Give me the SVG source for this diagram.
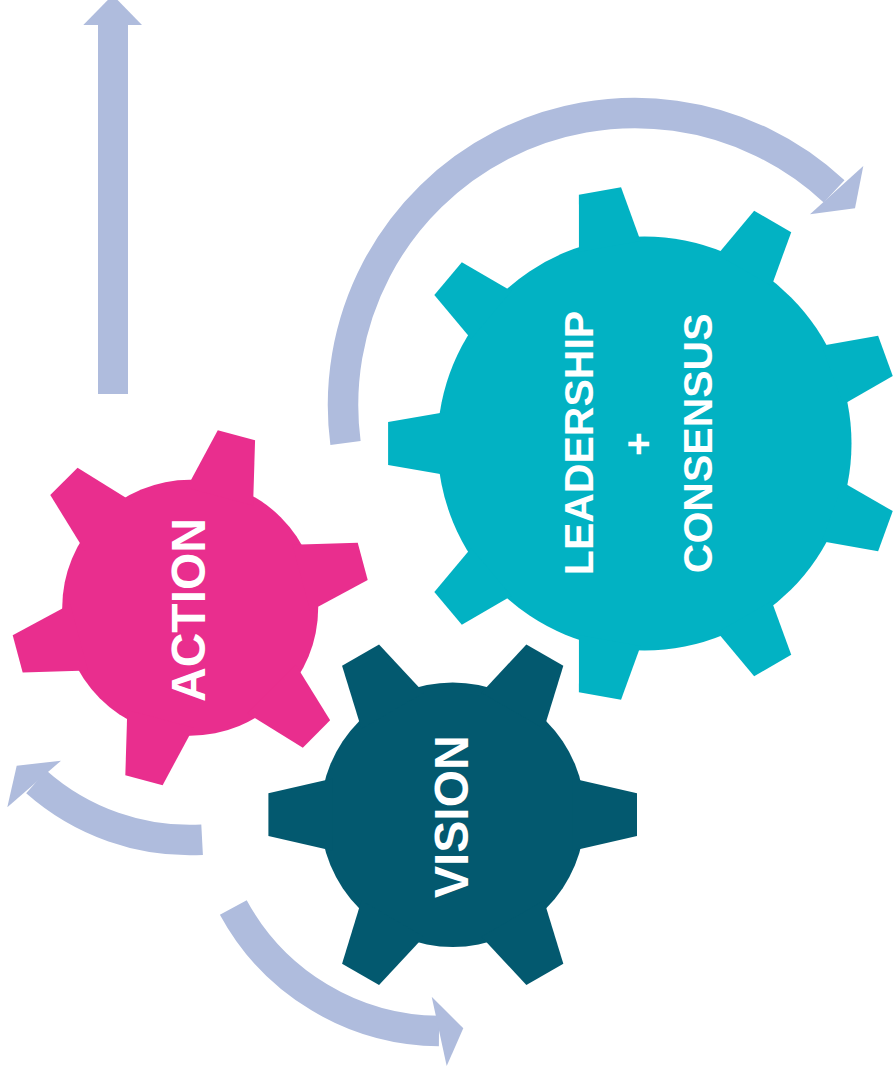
<svg xmlns="http://www.w3.org/2000/svg" xmlns:xlink="http://www.w3.org/1999/xlink" width="894" height="1076" viewBox="0 0 894 1076">
  <style>
    .arc { fill: none; stroke: #AFBCDD; stroke-width: 30.5; stroke-linecap: butt; }
    .head { fill: #AFBCDD; }
    .label { font-family: "Liberation Sans", Arial, sans-serif; font-weight: bold; fill: #FFFFFF; text-anchor: middle; }
    .teal { fill: #02B2C3; }
    .pink { fill: #E92E8E; }
    .navy { fill: #03596F; }
  </style>
  <defs>
    <polygon id="toothTeal" points="200,-31.3 256.4,-21.4 256.4,21.4 200,31.3"/>
    <polygon id="toothPink" points="115,-34.3 178.6,-19.3 178.6,19.3 115,34.3"/>
    <polygon id="toothNavy" points="120,-36.1 184.3,-21.35 184.3,21.35 120,36.1"/>
  </defs>

  <g id="connectors">
    <g id="arrow-up">
      <rect class="head" x="98" y="24" width="30" height="370"/>
      <polygon class="head" points="83.3,25 112.7,-5 142,25"/>
    </g>
    <g id="arrow-big-arc">
      <path class="arc" d="M 345.5,443 A 292,292 0 0 1 834.1,191.4"/>
      <polygon class="head" points="863.3,166 855,208.3 810,214.3"/>
    </g>
    <g id="arrow-left-arc">
      <path class="arc" d="M 202.1,839.7 A 232,232 0 0 1 36.3,781.8"/>
      <polygon class="head" points="61,760.7 16.7,765.7 7.3,807.3"/>
    </g>
    <g id="arrow-bottom-arc">
      <path class="arc" d="M 233.3,907.4 A 236,236 0 0 0 439,1031"/>
      <polygon class="head" points="431.7,996.7 463.3,1028.3 446.7,1066"/>
    </g>
  </g>

  <g id="gear-leadership" class="teal">
    <g transform="translate(644.5,443.5)">
      <circle r="207"/>
      <use xlink:href="#toothTeal" transform="rotate(180)"/>
      <use xlink:href="#toothTeal" transform="rotate(220)"/>
      <use xlink:href="#toothTeal" transform="rotate(260)"/>
      <use xlink:href="#toothTeal" transform="rotate(300)"/>
      <use xlink:href="#toothTeal" transform="rotate(340)"/>
      <use xlink:href="#toothTeal" transform="rotate(20)"/>
      <use xlink:href="#toothTeal" transform="rotate(60)"/>
      <use xlink:href="#toothTeal" transform="rotate(100)"/>
      <use xlink:href="#toothTeal" transform="rotate(140)"/>
    </g>
    <text class="label" font-size="41" transform="translate(593.3,443) rotate(-90)">LEADERSHIP</text>
    <text class="label" font-size="41" transform="translate(652,444) rotate(-90)">+</text>
    <text class="label" font-size="41" transform="translate(712,443.3) rotate(-90)">CONSENSUS</text>
  </g>

  <g id="gear-action" class="pink">
    <g transform="translate(190.2,607.7)">
      <circle r="128"/>
      <use xlink:href="#toothPink" transform="rotate(-75)"/>
      <use xlink:href="#toothPink" transform="rotate(-15)"/>
      <use xlink:href="#toothPink" transform="rotate(45)"/>
      <use xlink:href="#toothPink" transform="rotate(105)"/>
      <use xlink:href="#toothPink" transform="rotate(165)"/>
      <use xlink:href="#toothPink" transform="rotate(225)"/>
    </g>
    <text class="label" font-size="48" transform="translate(204.5,610) rotate(-90)">ACTION</text>
  </g>

  <g id="gear-vision" class="navy">
    <g transform="translate(452.7,814.7)">
      <circle r="132.3"/>
      <use xlink:href="#toothNavy" transform="rotate(0)"/>
      <use xlink:href="#toothNavy" transform="rotate(60)"/>
      <use xlink:href="#toothNavy" transform="rotate(120)"/>
      <use xlink:href="#toothNavy" transform="rotate(180)"/>
      <use xlink:href="#toothNavy" transform="rotate(240)"/>
      <use xlink:href="#toothNavy" transform="rotate(300)"/>
    </g>
    <text class="label" font-size="48" transform="translate(468,816.7) rotate(-90)">VISION</text>
  </g>
</svg>
